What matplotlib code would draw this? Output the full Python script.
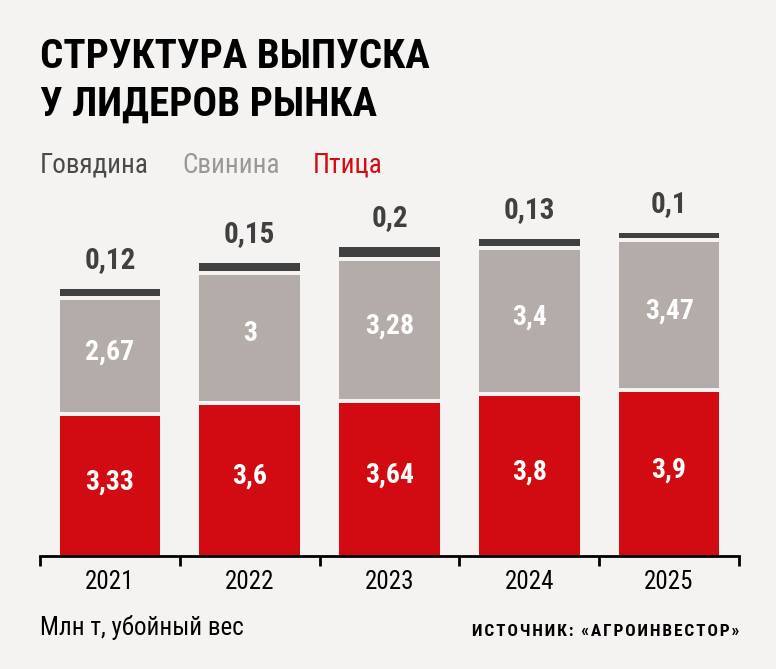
import matplotlib
matplotlib.use("Agg")
import matplotlib.pyplot as plt
from matplotlib import font_manager as fm
import numpy as np

years = ["2021", "2022", "2023", "2024", "2025"]
poultry = [3.33, 3.6, 3.64, 3.8, 3.9]      # Птица
pork = [2.67, 3.0, 3.28, 3.4, 3.47]        # Свинина
beef = [0.12, 0.15, 0.2, 0.13, 0.1]        # Говядина
poultry_lbl = ["3,33", "3,6", "3,64", "3,8", "3,9"]
pork_lbl = ["2,67", "3", "3,28", "3,4", "3,47"]
beef_lbl = ["0,12", "0,15", "0,2", "0,13", "0,1"]

available = {f.name for f in fm.fontManager.ttflist}
fam = None
for cand in ["Liberation Sans Narrow", "Roboto Condensed", "Open Sans Condensed", "Roboto", "Liberation Sans"]:
    if cand in available:
        fam = cand
        break
plt.rcParams['font.family'] = [fam, 'DejaVu Sans']

BG = "#f5f3f1"
RED = "#d20a11"
GREY = "#b3aca8"
DARK = "#404040"

W, H = 776, 669
fig = plt.figure(figsize=(W / 100, H / 100), dpi=100, facecolor=BG)

ax_left, ax_right = 40, 739
ax_bottom, ax_top = 556, 180
ax = fig.add_axes([ax_left / W, (H - ax_bottom) / H, (ax_right - ax_left) / W, (ax_bottom - ax_top) / H])
ax.set_facecolor(BG)
scale = 42.0  # px per unit
ax.set_ylim(0, (ax_bottom - ax_top) / scale)
ax.set_xlim(-0.5, len(years) - 0.5)

x = np.arange(len(years))
gap = 4 / scale
bw = 0.72
p = np.array(poultry)
k = np.array(pork)
b = np.array(beef)
ax.bar(x, p, width=bw, color=RED, linewidth=0)
ax.bar(x, k, bottom=p + gap, width=bw, color=GREY, linewidth=0)
ax.bar(x, b + 1.5 / scale, bottom=p + k + 2 * gap, width=bw, color=DARK, linewidth=0)

for i in range(len(years)):
    ax.text(x[i], p[i] / 2 + 4 / scale, poultry_lbl[i], ha='center', va='center',
            color='white', fontsize=20, fontweight='bold')
    ax.text(x[i], p[i] + gap + k[i] / 2 + 4 / scale, pork_lbl[i], ha='center', va='center',
            color='white', fontsize=20, fontweight='bold')
    top = p[i] + k[i] + 2 * gap + b[i] + 1.5 / scale
    ax.text(x[i], top + 15 / scale, beef_lbl[i], ha='center', va='bottom',
            color=DARK, fontsize=21, fontweight='bold')

for s in ['top', 'right', 'left']:
    ax.spines[s].set_visible(False)
ax.spines['bottom'].set_linewidth(2)
ax.spines['bottom'].set_color('black')
ax.set_yticks([])
ax.set_xticks(np.arange(-0.5, len(years), 1.0))
ax.set_xticklabels([])
ax.set_xticks(x, minor=True)
ax.set_xticklabels(years, minor=True, fontsize=18)
ax.tick_params(axis='x', which='major', length=7, width=2, color='black')
ax.tick_params(axis='x', which='minor', length=0, pad=10, colors='black')

def fy(y):
    return 1 - y / H

fig.text(40 / W, fy(57), "СТРУКТУРА ВЫПУСКА", fontsize=29.5, fontweight='bold', color='black', va='center', ha='left')
fig.text(40 / W, fy(105), "У ЛИДЕРОВ РЫНКА", fontsize=29.5, fontweight='bold', color='black', va='center', ha='left')

fig.text(40 / W, fy(165), "Говядина", fontsize=19.5, color="#4a4a4a", va='center', ha='left')
fig.text(182 / W, fy(165), "Свинина", fontsize=19.5, color="#9b9795", va='center', ha='left')
fig.text(313 / W, fy(165), "Птица", fontsize=19.5, color=RED, va='center', ha='left')

fig.text(40 / W, fy(627), "Млн т, убойный вес", fontsize=18, color='black', va='center', ha='left')
src = "ИСТОЧНИК: «АГРОИНВЕСТОР»"
src_spaced = "\u200a".join(src)
fig.text(739 / W, fy(631), src_spaced, fontsize=12.5, fontweight='semibold', color='black',
         va='center', ha='right', family=[fam, 'DejaVu Sans'])

fig.savefig("out.png", dpi=100, facecolor=BG)
